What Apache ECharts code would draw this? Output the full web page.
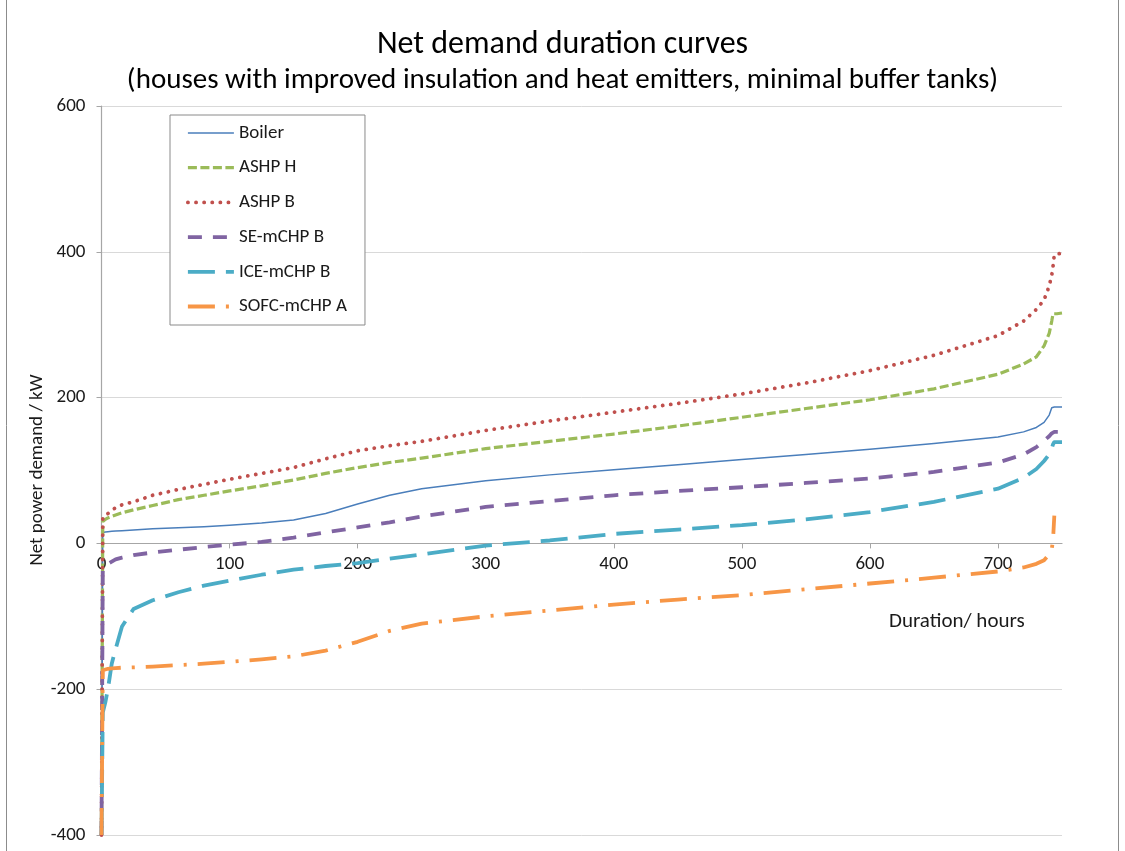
<!DOCTYPE html>
<html>
<head>
<meta charset="utf-8">
<style>
  html, body { margin: 0; padding: 0; background: #ffffff; }
  #chart { width: 1125px; height: 851px; }
</style>
<script src="https://cdn.jsdelivr.net/npm/echarts@6/dist/echarts.min.js"></script>
</head>
<body>
<div id="chart"></div>
<script>
const titleText = 'Net demand duration curves';
const subtitleText = '(houses with improved insulation and heat emitters, minimal buffer tanks)';
const xAxisTitle = 'Duration/ hours';
const yAxisTitle = 'Net power demand / kW';
const xTicks = [0, 100, 200, 300, 400, 500, 600, 700];
const yTicks = [-400, -200, 0, 200, 400, 600];

const seriesNames = ['Boiler', 'ASHP H', 'ASHP B', 'SE-mCHP B', 'ICE-mCHP B', 'SOFC-mCHP A'];

const hours = [0, 1, 3, 5, 8, 11, 16, 25, 40, 60, 80, 100, 125, 150, 175, 200, 225, 250, 300, 350, 400, 450, 500, 550, 600, 650, 700, 720, 730, 736, 740, 742, 743, 744, 746, 750];

const boiler = [-400, 15, 15.5, 16, 16.5, 17, 17.5, 18.5, 20, 21.5, 23, 25, 28, 32, 41, 54, 66, 75, 86, 94, 101, 108, 115, 122, 129, 137, 146, 153, 159, 166, 176, 186, 187, 187, 187, 187];
const ashpH = [-400, 30, 33, 35, 37, 39, 42, 46, 52, 60, 66, 72, 79, 87, 96, 104, 111, 117, 130, 140, 150, 161, 173, 185, 197, 212, 232, 246, 256, 271, 288, 305, 315, 315, 315, 316];
const ashpB = [-400, 35, 39, 41, 45, 49, 53, 57, 66, 74, 81, 88, 96, 104, 116, 127, 134, 140, 155, 168, 180, 192, 205, 220, 237, 258, 285, 305, 321, 334, 353, 368, 380, 396, 397, 398];
const seMchpB = [-400, -37, -32, -28, -25, -22, -19.5, -16, -12.5, -8.7, -5, -1.8, 2, 8, 15, 22, 29, 37, 50, 58, 66, 72, 77, 83, 89, 98, 111, 122, 132, 141, 147, 151, 153, 153, 153, 153];
const iceMchpB = [-400, -232, -218, -200, -165, -145, -114, -90, -78, -67, -58, -51, -43, -36, -31, -27, -21, -15, -3, 4, 13, 19, 25, 33, 43, 57, 75, 90, 102, 113, 122, 130, 136, 139, 139, 139];
const sofcMchpA = [-400, -174, -173, -172, -171.5, -171, -170.5, -170, -169, -167, -165, -162.5, -159, -155, -147, -135, -120, -110, -100, -92, -84, -77, -71, -63, -55, -47, -38.5, -33, -28, -23, -15, -8, 5, 38, null, null];

const seriesValues = [boiler, ashpH, ashpB, seMchpB, iceMchpB, sofcMchpA];

const FONT = "Carlito, 'Liberation Sans', Arial, sans-serif";
const TEXT = '#1a1a1a';

const styles = [
  { color: '#4A7EBB', width: 1.5, type: 'solid', cap: 'butt' },
  { color: '#9BBB59', width: 3.2, type: [9, 3.5], cap: 'butt' },
  { color: '#C0504D', width: 3.8, type: [0.1, 8], cap: 'round' },
  { color: '#8064A2', width: 3.8, type: [14, 11], cap: 'butt' },
  { color: '#4BACC6', width: 3.8, type: [27, 11], cap: 'butt' },
  { color: '#F79646', width: 3.8, type: [27, 11, 3, 11], cap: 'butt' }
];

const series = seriesNames.map((name, i) => ({
  name: name,
  type: 'line',
  data: hours.map((h, j) => [h, seriesValues[i][j]]),
  showSymbol: false,
  symbol: 'none',
  clip: true,
  connectNulls: false,
  color: styles[i].color,
  lineStyle: {
    color: styles[i].color,
    width: styles[i].width,
    type: styles[i].type,
    cap: styles[i].cap,
    join: 'round'
  },
  emphasis: { disabled: true }
}));

const legendData = seriesNames.map((name, i) => ({
  name: name,
  lineStyle: { width: styles[i].width, type: styles[i].type, cap: styles[i].cap, color: styles[i].color }
}));

const gridTop = 106, gridBottom = 16, chartH = 851;
const yMin = yTicks[0], yMax = yTicks[yTicks.length - 1];
const gridH = chartH - gridTop - gridBottom;
const zeroOffset = -((0 - yMin) / (yMax - yMin)) * gridH;

const chart = echarts.init(document.getElementById('chart'), null, { renderer: 'canvas' });
chart.setOption({
  animation: false,
  backgroundColor: '#ffffff',
  title: {
    text: titleText,
    subtext: subtitleText,
    left: 'center',
    top: 24,
    itemGap: 5,
    textStyle: { fontFamily: FONT, fontSize: 32, fontWeight: 'normal', color: '#000' },
    subtextStyle: { fontFamily: FONT, fontSize: 29, color: '#000' }
  },
  legend: {
    orient: 'vertical',
    left: 170,
    top: 115,
    padding: [8.5, 18, 9, 16],
    itemWidth: 46,
    itemHeight: 16,
    itemGap: 15.7,
    backgroundColor: '#ffffff',
    borderColor: '#8a8a8a',
    borderWidth: 1,
    itemStyle: { opacity: 0 },
    lineStyle: { width: 'inherit', type: 'inherit', cap: 'inherit' },
    textStyle: { fontFamily: FONT, fontSize: 19, color: TEXT, lineHeight: 19 },
    data: legendData
  },
  grid: { left: 101.5, right: 63, top: gridTop, bottom: gridBottom, containLabel: false },
  xAxis: {
    type: 'value',
    min: 0,
    max: 750,
    offset: zeroOffset,
    axisLine: { onZero: false, lineStyle: { color: '#a6a6a6', width: 1.2 } },
    axisTick: { show: true, customValues: xTicks, length: 5, lineStyle: { color: '#a6a6a6' } },
    axisLabel: { customValues: xTicks, margin: 11, fontFamily: FONT, fontSize: 19, color: TEXT },
    splitLine: { show: false }
  },
  yAxis: {
    type: 'value',
    min: yMin,
    max: yMax,
    interval: 200,
    axisLine: { show: true, onZero: false, lineStyle: { color: '#a6a6a6', width: 1.2 } },
    axisTick: { show: true, length: 5, lineStyle: { color: '#a6a6a6' } },
    axisLabel: { margin: 16, fontFamily: FONT, fontSize: 19, color: TEXT },
    splitLine: { show: true, lineStyle: { color: '#d9d9d9', width: 1 } }
  },
  graphic: [
    { type: 'line', shape: { x1: 6.5, y1: 0, x2: 6.5, y2: 851 }, style: { stroke: '#8c8c8c', lineWidth: 1 }, silent: true },
    { type: 'line', shape: { x1: 1118.5, y1: 0, x2: 1118.5, y2: 851 }, style: { stroke: '#8c8c8c', lineWidth: 1 }, silent: true },
    { type: 'text', left: 889, top: 611, style: { text: xAxisTitle, font: '21px ' + FONT, fill: TEXT }, silent: true },
    { type: 'text', x: 37, y: 470, rotation: Math.PI / 2, style: { text: yAxisTitle, font: '19px ' + FONT, fill: TEXT, textAlign: 'center', textVerticalAlign: 'middle' }, silent: true }
  ],
  series: series
});
</script>
</body>
</html>
